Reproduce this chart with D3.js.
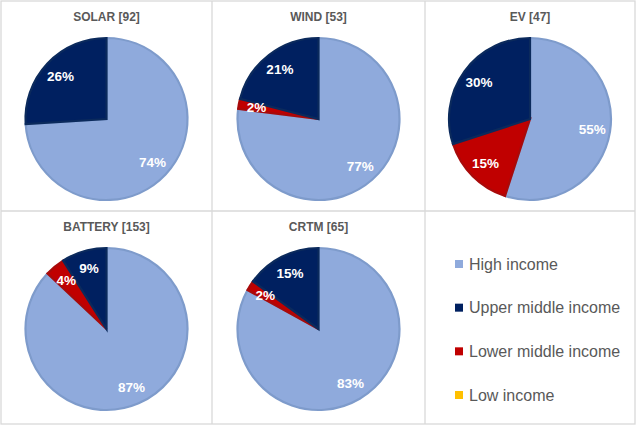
<!DOCTYPE html>
<html>
<head>
<meta charset="utf-8">
<script src="https://cdn.jsdelivr.net/npm/d3@7"></script>
<style>
  html, body { margin: 0; padding: 0; background: #ffffff; }
  svg { display: block; }
</style>
</head>
<body>
<svg id="chart" width="636" height="425"></svg>
<script>
// Data
const charts = ["SOLAR", "WIND", "EV", "BATTERY", "CRTM"];
const counts = [92, 53, 47, 153, 65];
const sliceOrder = ["High income", "Lower middle income", "Upper middle income", "Low income"];
const highIncome = [74, 77, 55, 87, 83];
const lowerMiddleIncome = [0, 2, 15, 4, 2];
const upperMiddleIncome = [26, 21, 30, 9, 15];
const lowIncome = [0, 0, 0, 0, 0];
const legendLabels = ["High income", "Upper middle income", "Lower middle income", "Low income"];

const fills = {
  "High income": "#8FAADC",
  "Upper middle income": "#002060",
  "Lower middle income": "#C00000",
  "Low income": "#FFC000"
};
const strokes = {
  "High income": "#7E9BCB",
  "Upper middle income": "#0B2A5C",
  "Lower middle income": "#A80A0A",
  "Low income": "#E0A800"
};

const FONT = "'Liberation Sans', Arial, sans-serif";
const svg = d3.select("#chart");
const W = 636, H = 425;

// panel grid
const xEdges = [1, 212, 425, 635];
const yEdges = [1, 211, 424];

svg.append("rect").attr("x", 0).attr("y", 0).attr("width", W).attr("height", H).attr("fill", "#ffffff");

const grid = svg.append("g").attr("stroke", "#D9D9D9").attr("stroke-width", 1.3).attr("fill", "none");
grid.append("rect").attr("x", xEdges[0]).attr("y", yEdges[0])
  .attr("width", xEdges[3] - xEdges[0]).attr("height", yEdges[2] - yEdges[0]);
[xEdges[1], xEdges[2]].forEach(x => grid.append("line").attr("x1", x).attr("x2", x).attr("y1", yEdges[0]).attr("y2", yEdges[2]));
grid.append("line").attr("x1", xEdges[0]).attr("x2", xEdges[3]).attr("y1", yEdges[1]).attr("y2", yEdges[1]);

const R = 81;
const labelR = 63;
const pie = d3.pie().sort(null).value(d => d.value);
const arc = d3.arc().innerRadius(0).outerRadius(R);
const labelArc = d3.arc().innerRadius(labelR).outerRadius(labelR);

charts.forEach((name, i) => {
  const col = i % 3, row = Math.floor(i / 3);
  const cx = (xEdges[col] + xEdges[col + 1]) / 2;
  const top = yEdges[row];
  const cy = top + 118;
  const data = [
    { key: sliceOrder[0], value: highIncome[i] },
    { key: sliceOrder[1], value: lowerMiddleIncome[i] },
    { key: sliceOrder[2], value: upperMiddleIncome[i] },
    { key: sliceOrder[3], value: lowIncome[i] }
  ];
  const g = svg.append("g").attr("transform", `translate(${cx},${cy})`);
  const arcs = pie(data).filter(d => d.data.value > 0);
  g.selectAll("path").data(arcs).join("path")
    .attr("d", arc)
    .attr("fill", d => fills[d.data.key])
    .attr("stroke", d => strokes[d.data.key])
    .attr("stroke-width", 2.2)
    .attr("stroke-linejoin", "miter");
  g.selectAll("text").data(arcs).join("text")
    .attr("transform", d => `translate(${labelArc.centroid(d)})`)
    .attr("text-anchor", "middle")
    .attr("dy", "0.36em")
    .attr("fill", "#ffffff")
    .attr("font-family", FONT)
    .attr("font-weight", "bold")
    .attr("font-size", 13.5)
    .text(d => d.data.value + "%");

  svg.append("text")
    .attr("x", cx).attr("y", top + 16)
    .attr("dy", "0.36em")
    .attr("text-anchor", "middle")
    .attr("fill", "#595959")
    .attr("font-family", FONT)
    .attr("font-weight", "bold")
    .attr("font-size", 12)
    .text(`${name} [${counts[i]}]`);
});

// Legend
const legendY = d3.scalePoint().domain(legendLabels).range([264, 395]);
const lg = svg.append("g");
legendLabels.forEach(k => {
  const y = legendY(k);
  lg.append("rect").attr("x", 455).attr("y", y - 4).attr("width", 8).attr("height", 8).attr("fill", fills[k]);
  lg.append("text").attr("x", 469).attr("y", y).attr("dy", "0.36em")
    .attr("fill", "#595959")
    .attr("font-family", FONT)
    .attr("font-size", 16)
    .text(k);
});
</script>
</body>
</html>
